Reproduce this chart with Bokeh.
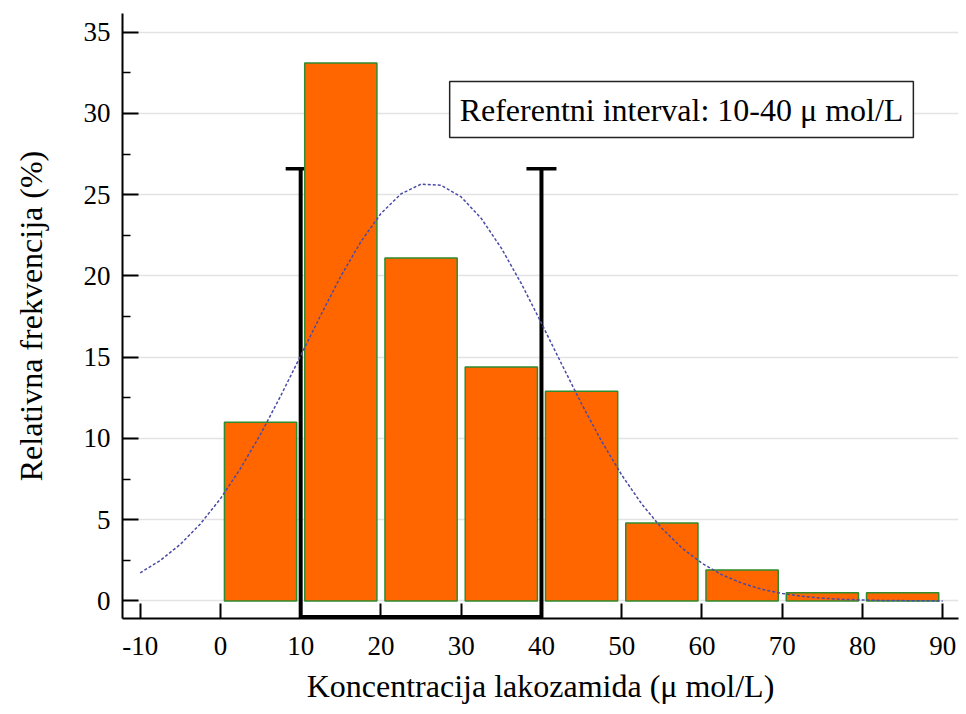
from bokeh.plotting import figure
from bokeh.models import Range1d, FixedTicker, Whisker, TeeHead, ColumnDataSource, Label
from bokeh.embed import file_html
from bokeh.resources import INLINE

# ---- data ----
bin_start = [0, 10, 20, 30, 40, 50, 60, 70, 80]
rel_freq = [11.0, 33.1, 21.1, 14.4, 12.9, 4.8, 1.9, 0.5, 0.5]

curve_x = [-10, -7.5, -5, -2.5, 0, 2.5, 5, 7.5, 10, 12.5, 15, 17.5, 20, 22.5, 25,
           27.5, 30, 32.5, 35, 37.5, 40, 42.5, 45, 47.5, 50, 52.5, 55, 57.5, 60,
           62.5, 65, 67.5, 70, 72.5, 75, 77.5, 80, 82.5, 85, 87.5, 90]
curve_y = [1.73, 2.49, 3.48, 4.74, 6.29, 8.15, 10.26, 12.61, 15.09, 17.59, 19.98,
           22.11, 23.84, 25.05, 25.65, 25.58, 24.86, 23.54, 21.71, 19.52, 17.09,
           14.59, 12.13, 9.82, 7.75, 5.96, 4.47, 3.26, 2.32, 1.61, 1.09, 0.71,
           0.46, 0.29, 0.17, 0.10, 0.06, 0.03, 0.02, 0.01, 0.0]

ref_limits = [10, 40]
ref_height = [26.6, 26.6]

x_ticks = [-10, 0, 10, 20, 30, 40, 50, 60, 70, 80, 90]
x_tick_labels = ["-10", "0", "10", "20", "30", "40", "50", "60", "70", "80", "90"]
y_ticks = [0, 5, 10, 15, 20, 25, 30, 35]
y_minor = [2.5, 7.5, 12.5, 17.5, 22.5, 27.5, 32.5]

legend_text = "Referentni interval: 10-40 \u03bc mol/L"
x_title = "Koncentracija lakozamida (\u03bc mol/L)"
y_title = "Relativna frekvencija (%)"

FONT = "Liberation Serif"
Y0 = -1.08

p = figure(width=962, height=706, output_backend="svg", toolbar_location=None,
           x_range=Range1d(-12.2, 91.96), y_range=Range1d(Y0, 36.15),
           min_border_left=122, min_border_right=4, min_border_top=13,
           min_border_bottom=85)
p.outline_line_color = None
p.background_fill_color = "white"
p.border_fill_color = "white"

# grid
p.xgrid.grid_line_color = None
p.ygrid.grid_line_color = "#e3e3e3"
p.ygrid.grid_line_width = 1.5

# bars
centers = [b + 5 for b in bin_start]
p.vbar(x=centers, width=9, top=rel_freq, bottom=0,
       fill_color="#ff6600", line_color="#2e8b2e", line_width=1.5)

# normal curve
p.line(curve_x, curve_y, line_color="#4a4aa8", line_width=1.5, line_dash="3 2")

# reference interval markers
p.segment(x0=[ref_limits[0]], y0=[Y0], x1=[ref_limits[1]], y1=[Y0],
          line_color="black", line_width=7)
src = ColumnDataSource(dict(base=ref_limits, lower=[Y0, Y0], upper=ref_height))
wh = Whisker(source=src, base="base", lower="lower", upper="upper",
             dimension="height", line_color="black", line_width=4,
             upper_head=TeeHead(size=30, line_width=3.5, line_color="black"),
             lower_head=None)
p.add_layout(wh)

# legend-like label
lab = Label(x=57.45, y=30.24, text=legend_text, text_align="center",
            text_baseline="middle", text_font=FONT, text_font_size="32px",
            text_color="black", border_line_color="#222222", border_line_width=1.5,
            background_fill_color="white", padding=10)
p.add_layout(lab)

# axes
for ax in (p.xaxis[0], p.yaxis[0]):
    ax.axis_line_color = "black"
    ax.axis_line_width = 2
    ax.major_tick_line_color = "black"
    ax.major_tick_line_width = 2
    ax.major_tick_out = 0
    ax.major_label_text_font = FONT
    ax.major_label_text_font_size = "27px"
    ax.major_label_text_color = "black"
    ax.axis_label_text_font = FONT
    ax.axis_label_text_font_size = "32px"
    ax.axis_label_text_font_style = "normal"
    ax.axis_label_text_color = "black"

p.xaxis.ticker = FixedTicker(ticks=x_ticks)
p.xaxis.major_label_overrides = {t: s for t, s in zip(x_ticks, x_tick_labels)}
p.xaxis.major_tick_in = 15
p.xaxis.minor_tick_line_color = None
p.xaxis.major_label_standoff = 18
p.xaxis.axis_label = x_title
p.xaxis.axis_label_standoff = 10

p.yaxis.ticker = FixedTicker(ticks=y_ticks, minor_ticks=y_minor)
p.yaxis.major_tick_in = 16
p.yaxis.minor_tick_in = 8
p.yaxis.minor_tick_out = 0
p.yaxis.minor_tick_line_color = "black"
p.yaxis.minor_tick_line_width = 1.5
p.yaxis.major_label_standoff = 12
p.yaxis.axis_label = y_title
p.yaxis.axis_label_standoff = 32

open("out.html", "w").write(file_html(p, INLINE))
